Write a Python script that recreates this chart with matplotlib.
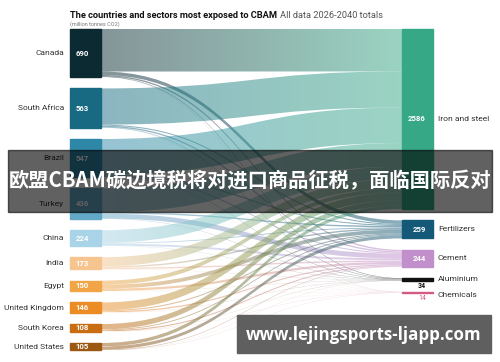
import numpy as np
import matplotlib.pyplot as plt
from matplotlib.path import Path
from matplotlib.patches import PathPatch, Rectangle
from matplotlib.colors import to_rgb

# data (million tonnes CO2, 2026-2040 totals)
countries = ["Canada", "South Africa", "Brazil", "Turkey", "China", "India",
             "Egypt", "United Kingdom", "South Korea", "United States"]
country_values = [690, 563, 547, 436, 224, 173, 150, 146, 108, 105]
country_colors = ["#0b2a32", "#176a82", "#2f87a8", "#63a8c6", "#a9d3e6",
                  "#f5c48f", "#f2a546", "#eb8d24", "#c96d12", "#9c5812"]

sectors = ["Iron and steel", "Fertilizers", "Cement", "Aluminium", "Chemicals"]
sector_values = [2586, 259, 244, 34, 14]
sector_colors = ["#36a886", "#145a78", "#c18fcb", "#111111", "#d45a82"]

# country -> sector (iron, fertilizers, cement, aluminium, chemicals)
flows = np.array([
    [611, 50, 20, 7, 2],
    [520, 15, 20, 6, 2],
    [511, 15, 15, 5, 1],
    [341, 20, 70, 4, 1],
    [180, 12, 28, 3, 1],
    [130, 20, 20, 2, 1],
    [60, 55, 32, 2, 1],
    [111, 15, 17, 2, 1],
    [77, 12, 15, 2, 2],
    [50, 45, 7, 1, 2],
], dtype=float)

W, H = 500, 362
fig = plt.figure(figsize=(5, 3.62), dpi=100)
ax = fig.add_axes([0, 0, 1, 1])
ax.axis('off')

k = 0.0696      # pixels per million tonnes
top_px = 29
gap = 11.4 / k

xl = (70, 101)
xr = (402, 433)
font = ['Roboto', 'DejaVu Sans']


def stack(values):
    tops, y = [], 0.0
    for v in values:
        tops.append(y)
        y += v + gap
    return np.array(tops)


left_top = stack(country_values)
right_top = stack(sector_values)

# flows with colour gradient
row_scale = np.array(country_values) / flows.sum(axis=1)
col_scale = np.array(sector_values) / flows.sum(axis=0)
left_off = left_top.copy()
right_off = right_top.copy()
t = np.linspace(0, 1, 256)[:, None]
for i in range(len(countries)):
    for j in range(len(sectors)):
        f = flows[i, j]
        wa = f * row_scale[i]
        wb = f * col_scale[j]
        ya0, ya1 = left_off[i], left_off[i] + wa
        yb0, yb1 = right_off[j], right_off[j] + wb
        left_off[i] += wa
        right_off[j] += wb
        x0, x1 = xl[1], xr[0]
        xm = (x0 + x1) / 2
        verts = [(x0, ya0), (xm, ya0), (xm, yb0), (x1, yb0),
                 (x1, yb1), (xm, yb1), (xm, ya1), (x0, ya1), (x0, ya0)]
        codes = [Path.MOVETO, Path.CURVE4, Path.CURVE4, Path.CURVE4,
                 Path.LINETO, Path.CURVE4, Path.CURVE4, Path.CURVE4, Path.CLOSEPOLY]
        patch = PathPatch(Path(verts, codes), facecolor='none', edgecolor='none')
        ax.add_patch(patch)
        c0 = np.array(to_rgb(country_colors[i]))
        c1 = np.array(to_rgb(sector_colors[j]))
        grad = np.ones((1, 256, 4))
        grad[0, :, :3] = (1 - t) * c0 + t * c1
        grad[0, :, 3] = 0.5
        im = ax.imshow(grad, extent=(x0, x1, max(ya1, yb1), min(ya0, yb0)),
                       aspect='auto', interpolation='bilinear', zorder=1)
        im.set_clip_path(patch)

ax.set_xlim(0, W)
ax.set_ylim((H - top_px) / k, -top_px / k)

# nodes and labels
for i, (name, v) in enumerate(zip(countries, country_values)):
    ax.add_patch(Rectangle((xl[0], left_top[i]), xl[1] - xl[0], v,
                           color=country_colors[i], zorder=2))
    yc = left_top[i] + v / 2
    ax.text(64, yc, name, ha='right', va='center', fontsize=6.0,
            color='#333333', family=font)
    ax.text(75.5, yc, str(v), ha='left', va='center', fontsize=5.6,
            fontweight='bold', color='white', family=font, zorder=3)

for j, (name, v) in enumerate(zip(sectors, sector_values)):
    ax.add_patch(Rectangle((xr[0], right_top[j]), xr[1] - xr[0], v,
                           color=sector_colors[j], zorder=2))
    yc = right_top[j] + v / 2
    if v > 100:
        ax.text(426, yc, str(v), ha='right', va='center', fontsize=5.6,
                fontweight='bold', color='white', family=font, zorder=3)
        ax.text(438, yc, name, ha='left', va='center', fontsize=6.1,
                color='#333333', family=font)
    else:
        ax.text(426, right_top[j] + v + 5.5 / k, str(v), ha='right', va='center',
                fontsize=5, fontweight='bold' if j == 3 else 'normal',
                color=sector_colors[j], family=font)
        ax.text(438, yc + (2.5 / k if j == 4 else 0), name, ha='left', va='center',
                fontsize=6.1, color='#333333', family=font)

# title
t1 = fig.text(70 / W, 1 - 15 / H, "The countries and sectors most exposed to CBAM",
              fontsize=6.7, fontweight='bold', color='#111111', va='center', family=font)
fig.canvas.draw()
bb = t1.get_window_extent()
fig.text((bb.x1 + 3) / W, 1 - 15 / H, "All data 2026-2040 totals", fontsize=6.7,
         color='#555555', va='center', family=font)
fig.text(70 / W, 1 - 24 / H, "(million tonnes CO2)", fontsize=4.0,
         color='#777777', va='center', family=font)

# overlay banners
fig.add_artist(Rectangle((8 / W, 1 - 212 / H), 484 / W, 62 / H,
                         transform=fig.transFigure, color='black', alpha=0.62, zorder=10))
fig.text(0.5, 1 - 181 / H, "欧盟CBAM碳边境税将对进口商品征税，面临国际反对",
         color='white', fontsize=14.6, fontweight='bold', ha='center', va='center',
         family=['Noto Sans CJK SC', 'DejaVu Sans'], zorder=11)

fig.add_artist(Rectangle((237 / W, 1 - 353 / H), 254 / W, 38 / H,
                         transform=fig.transFigure, color='#5f5f5f', zorder=10))
fig.text(364 / W, 1 - 335 / H, "www.lejingsports-ljapp.com", color='white',
         fontsize=12.2, fontweight='bold', ha='center', va='center',
         family=['Open Sans', 'DejaVu Sans'], zorder=11)

fig.savefig('out.png', dpi=100)
